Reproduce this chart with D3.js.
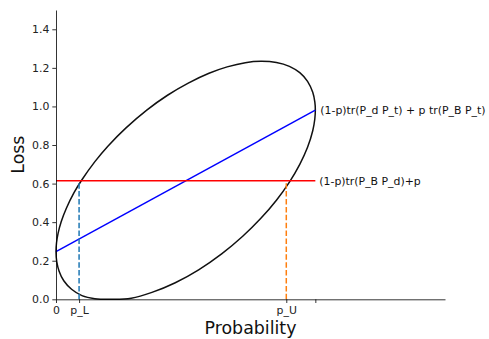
<!DOCTYPE html>
<html><head><meta charset="utf-8">
<script src="https://cdn.jsdelivr.net/npm/d3@7"></script>
<style>body{margin:0;background:#fff}svg{display:block}text{font-family:"DejaVu Sans",sans-serif}</style>
</head><body><svg id="c" width="489" height="339"></svg>
<script>
// closed loss curve (probability, loss), clockwise from left
const curveP = [0,0.002,0.008,0.02,0.04,0.07,0.1,0.15,0.2,0.27,0.35,0.43,0.51,0.59,0.66,0.73,0.79,0.85,0.9,0.94,0.97,0.99,0.998,1,0.998,0.99,0.97,0.94,0.9,0.85,0.79,0.72,0.64,0.55,0.46,0.37,0.29,0.22,0.15,0.1,0.06,0.03,0.012,0.003];
const curveL = [0.247,0.293,0.342,0.402,0.472,0.554,0.620,0.714,0.794,0.889,0.981,1.058,1.121,1.172,1.205,1.227,1.234,1.228,1.208,1.175,1.130,1.073,1.024,0.981,0.935,0.874,0.788,0.700,0.608,0.514,0.420,0.327,0.237,0.153,0.086,0.036,0.006,0.000,0.003,0.019,0.052,0.096,0.146,0.194];
const blueP = [0,1], blueL = [0.247,0.981];
const redP = [0,1], redL = [0.615,0.615];
const pL = 0.089, pU = 0.888;
const xTickVals = [0, pL, pU, 1];
const xTickLabels = ["0","p_L","p_U",""];
const yTickVals = [0,0.2,0.4,0.6,0.8,1.0,1.2,1.4];
const blueLabel = "(1-p)tr(P_d P_t) + p tr(P_B P_t)";
const redLabel = "(1-p)tr(P_B P_d)+p";

const svg = d3.select("#c");
const x = d3.scaleLinear().domain([0,1.5]).range([56,445]);
const y = d3.scaleLinear().domain([0,1.5]).range([299.3,10]);
const fs = 10.9;

const pts = curveP.map((p,i)=>[p,curveL[i]]);
svg.append("path").attr("d", d3.line().x(d=>x(d[0])).y(d=>y(d[1])).curve(d3.curveCatmullRomClosed.alpha(0.5))(pts))
  .attr("fill","none").attr("stroke","#111").attr("stroke-width",1.5);
const straight = d3.line().x(d=>x(d[0])).y(d=>y(d[1]));
svg.append("path").attr("d", straight(blueP.map((p,i)=>[p,blueL[i]])))
  .attr("fill","none").attr("stroke","#0000ff").attr("stroke-width",1.5);
svg.append("path").attr("d", straight(redP.map((p,i)=>[p,redL[i]])))
  .attr("fill","none").attr("stroke","#ff0000").attr("stroke-width",1.5);
[[pL,"#1f77b4"],[pU,"#ff7f0e"]].forEach(([p,c])=>{
  svg.append("path").attr("d", straight([[p,0],[p,redL[0]]]))
    .attr("fill","none").attr("stroke",c).attr("stroke-width",1.5).attr("stroke-dasharray","5.5,2.4");
});
svg.append("text").attr("x",x(1)+5).attr("y",y(blueL[1])).attr("dy","0.35em")
  .attr("font-size",fs).attr("fill","#111").text(blueLabel);
svg.append("text").attr("x",x(1)+4).attr("y",y(redL[1])).attr("dy","0.35em")
  .attr("font-size",fs).attr("fill","#111").text(redLabel);

const xa = svg.append("g").attr("transform",`translate(0,${y(0)})`)
  .call(d3.axisBottom(x).tickValues(xTickVals).tickFormat((d,i)=>xTickLabels[i]).tickSize(3.7).tickSizeOuter(0).tickPadding(3));
const ya = svg.append("g").attr("transform",`translate(${x(0)},0)`)
  .call(d3.axisLeft(y).tickValues(yTickVals).tickFormat(d3.format(".1f")).tickSize(3.7).tickSizeOuter(0).tickPadding(3));
[xa,ya].forEach(a=>{
  a.selectAll("text").attr("font-size",fs).attr("fill","#222").style("font-family","DejaVu Sans");
  a.select(".domain").attr("stroke","#000").attr("stroke-width",0.8);
  a.selectAll(".tick line").attr("stroke","#000").attr("stroke-width",0.8);
});
svg.append("text").attr("x",(x(0)+x(1.5))/2).attr("y",334).attr("text-anchor","middle")
  .attr("font-size",17.4).attr("fill","#111").text("Probability");
svg.append("text").attr("transform",`translate(24,${(y(0)+y(1.5))/2}) rotate(-90)`).attr("text-anchor","middle")
  .attr("font-size",17.4).attr("fill","#111").text("Loss");
</script></body></html>
